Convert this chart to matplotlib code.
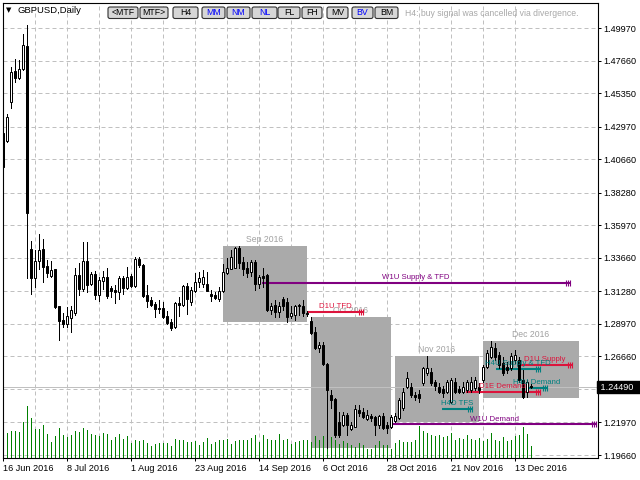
import matplotlib
matplotlib.use('Agg')
import matplotlib.pyplot as plt
import matplotlib.transforms as mtransforms
from matplotlib.patches import Rectangle, FancyBboxPatch
import numpy as np
import pandas as pd

# ---------------- data ----------------
dates = pd.bdate_range('2016-06-16', '2016-12-19')

opens = [
1.4251, 1.4197, 1.4470, 1.4692, 1.4647, 1.4711, 1.4869, 1.3427, 1.3220, 1.3345,
1.3426, 1.3307, 1.3236, 1.3284, 1.3023, 1.2924, 1.2896, 1.2941, 1.2976, 1.3243,
1.3142, 1.3345, 1.3184, 1.3250, 1.3102, 1.3203, 1.3227, 1.3149, 1.3135, 1.3125,
1.3220, 1.3154, 1.3236, 1.3166, 1.3355, 1.3319, 1.3102, 1.3066, 1.3038, 1.3011,
1.3007, 1.2955, 1.2910, 1.2877, 1.3043, 1.3031, 1.3166, 1.3054, 1.3130, 1.3192,
1.3184, 1.3184, 1.3113, 1.3106, 1.3073, 1.3130, 1.3256, 1.3288, 1.3296, 1.3437,
1.3334, 1.3291, 1.3263, 1.3338, 1.3184, 1.3237, 1.3243, 1.2995, 1.3031, 1.2983,
1.3071, 1.3054, 1.2955, 1.2962, 1.3030, 1.3023, 1.2976, 1.2919, 1.2841, 1.2724,
1.2747, 1.2612, 1.2392, 1.2361, 1.2202, 1.2179, 1.2250, 1.2148, 1.2167, 1.2286,
1.2274, 1.2219, 1.2245, 1.2238, 1.2179, 1.2243, 1.2179, 1.2167, 1.2210, 1.2227,
1.2298, 1.2452, 1.2452, 1.2392, 1.2399, 1.2475, 1.2551, 1.2558, 1.2487, 1.2452,
1.2433, 1.2416, 1.2345, 1.2487, 1.2433, 1.2416, 1.2428, 1.2428, 1.2440, 1.2452,
1.2499, 1.2593, 1.2664, 1.2724, 1.2676, 1.2617, 1.2593, 1.2582, 1.2641, 1.2641,
1.2499, 1.2416, 1.2456]

highs = [
1.4262, 1.4391, 1.4722, 1.4782, 1.4775, 1.4954, 1.5018, 1.3487, 1.3421, 1.3534,
1.3497, 1.3350, 1.3345, 1.3290, 1.3025, 1.2976, 1.3015, 1.3023, 1.3291, 1.3331,
1.3480, 1.3480, 1.3267, 1.3274, 1.3232, 1.3274, 1.3291, 1.3166, 1.3173, 1.3236,
1.3236, 1.3298, 1.3255, 1.3369, 1.3374, 1.3322, 1.3173, 1.3085, 1.3054, 1.3066,
1.3054, 1.2988, 1.2929, 1.3054, 1.3090, 1.3173, 1.3185, 1.3161, 1.3256, 1.3267,
1.3277, 1.3267, 1.3137, 1.3127, 1.3161, 1.3320, 1.3362, 1.3421, 1.3444, 1.3451,
1.3374, 1.3334, 1.3353, 1.3353, 1.3248, 1.3291, 1.3250, 1.3043, 1.3066, 1.3054,
1.3090, 1.3078, 1.3021, 1.3031, 1.3038, 1.3066, 1.2990, 1.2946, 1.2877, 1.2770,
1.2770, 1.2620, 1.2427, 1.2373, 1.2274, 1.2274, 1.2262, 1.2202, 1.2321, 1.2321,
1.2297, 1.2285, 1.2257, 1.2245, 1.2250, 1.2262, 1.2202, 1.2250, 1.2262, 1.2369,
1.2440, 1.2558, 1.2475, 1.2416, 1.2428, 1.2593, 1.2669, 1.2582, 1.2499, 1.2475,
1.2456, 1.2499, 1.2513, 1.2511, 1.2456, 1.2487, 1.2499, 1.2522, 1.2522, 1.2475,
1.2605, 1.2712, 1.2776, 1.2759, 1.2700, 1.2664, 1.2629, 1.2688, 1.2712, 1.2664,
1.2570, 1.2499, 1.2470]

lows = [
1.4005, 1.4190, 1.4431, 1.4616, 1.4635, 1.4699, 1.3222, 1.3113, 1.3160, 1.3284,
1.3196, 1.3231, 1.3227, 1.3007, 1.2782, 1.2872, 1.2877, 1.2841, 1.2960, 1.3102,
1.3132, 1.3125, 1.3173, 1.3071, 1.3061, 1.3142, 1.3078, 1.3090, 1.3047, 1.3071,
1.3113, 1.3142, 1.3158, 1.3158, 1.3300, 1.3090, 1.3015, 1.3026, 1.2948, 1.2976,
1.2941, 1.2894, 1.2853, 1.2870, 1.2955, 1.3022, 1.2965, 1.3031, 1.3125, 1.3161,
1.3161, 1.3130, 1.3059, 1.3073, 1.3059, 1.3125, 1.3252, 1.3286, 1.3291, 1.3291,
1.3243, 1.3232, 1.3241, 1.3137, 1.3149, 1.3161, 1.2988, 1.2971, 1.2943, 1.2948,
1.2998, 1.2913, 1.2940, 1.2924, 1.2962, 1.2953, 1.2953, 1.2829, 1.2717, 1.2700,
1.2605, 1.2016, 1.2298, 1.2097, 1.2097, 1.2171, 1.2108, 1.2143, 1.2162, 1.2245,
1.2226, 1.2212, 1.2204, 1.2108, 1.2155, 1.2150, 1.2120, 1.2155, 1.2203, 1.2220,
1.2286, 1.2440, 1.2380, 1.2357, 1.2345, 1.2463, 1.2534, 1.2463, 1.2428, 1.2404,
1.2380, 1.2404, 1.2335, 1.2404, 1.2404, 1.2404, 1.2416, 1.2416, 1.2428, 1.2404,
1.2487, 1.2582, 1.2653, 1.2641, 1.2582, 1.2534, 1.2546, 1.2570, 1.2617, 1.2487,
1.2369, 1.2380, 1.2440]

closes = [
1.4014, 1.4367, 1.4687, 1.4647, 1.4711, 1.4876, 1.3683, 1.3220, 1.3345, 1.3421,
1.3302, 1.3260, 1.3279, 1.3018, 1.2919, 1.2896, 1.2953, 1.2995, 1.3243, 1.3142,
1.3345, 1.3173, 1.3250, 1.3102, 1.3208, 1.3227, 1.3095, 1.3132, 1.3125, 1.3220,
1.3154, 1.3232, 1.3166, 1.3355, 1.3315, 1.3095, 1.3061, 1.3031, 1.3000, 1.3000,
1.2948, 1.2901, 1.2870, 1.3043, 1.3031, 1.3166, 1.3073, 1.3137, 1.3196, 1.3225,
1.3232, 1.3130, 1.3096, 1.3078, 1.3130, 1.3263, 1.3296, 1.3374, 1.3437, 1.3327,
1.3286, 1.3256, 1.3338, 1.3184, 1.3232, 1.3220, 1.2995, 1.3023, 1.2979, 1.3023,
1.3023, 1.2948, 1.2976, 1.3023, 1.3023, 1.2976, 1.2967, 1.2834, 1.2724, 1.2747,
1.2612, 1.2427, 1.2357, 1.2108, 1.2108, 1.2250, 1.2179, 1.2179, 1.2290, 1.2267,
1.2238, 1.2250, 1.2226, 1.2179, 1.2243, 1.2155, 1.2155, 1.2238, 1.2243, 1.2357,
1.2416, 1.2511, 1.2392, 1.2376, 1.2369, 1.2582, 1.2582, 1.2475, 1.2456, 1.2416,
1.2404, 1.2487, 1.2499, 1.2416, 1.2416, 1.2452, 1.2487, 1.2487, 1.2499, 1.2428,
1.2593, 1.2688, 1.2735, 1.2664, 1.2605, 1.2546, 1.2570, 1.2669, 1.2676, 1.2499,
1.2380, 1.2487, 1.2449]

tick_volume = [
28, 25, 27, 27, 26, 36, 52, 40, 29, 29,
33, 24, 16, 22, 30, 23, 21, 23, 27, 26,
30, 28, 24, 23, 22, 25, 24, 18, 21, 24,
19, 22, 15, 18, 17, 18, 15, 12, 14, 15,
15, 15, 12, 19, 18, 18, 16, 16, 17, 13,
16, 20, 14, 16, 18, 18, 19, 14, 17, 18,
18, 18, 20, 23, 16, 23, 19, 18, 18, 24,
18, 19, 14, 16, 17, 18, 18, 16, 22, 18,
22, 20, 21, 18, 14, 17, 15, 13, 11, 15,
13, 9, 9, 13, 17, 13, 13, 9, 15, 18,
16, 16, 16, 18, 32, 27, 25, 23, 22, 23,
21, 22, 25, 18, 20, 19, 23, 19, 18, 20,
17, 19, 25, 18, 17, 21, 17, 18, 22, 23,
31, 24, 12]

# monthly zones (bar index of first bar, bar index where the zone ends)
zone_labels = ['Sep 2016', 'Oct 2016', 'Nov 2016', 'Dec 2016']
zone_start = [55, 77, 98, 120]
zone_end = [76, 97, 119, 144]

# level lines
level_names = ['W1U Supply & TFD', 'D1U TFD', 'W1U Demand', 'D1E Demand',
               'D1U Supply', 'H4U Supply & TFD', 'H4U Demand', 'H4D TFS']
level_start = [64.6, 75.9, 97.4, 115.6, 128.4, 123.1, 130.9, 109.6]
level_end = [141.6, 89.9, 148.1, 134.1, 142.1, 134.1, 135.9, 117.1]
level_price = [1.3190, 1.2984, 1.2184, 1.2416, 1.2605, 1.2580, 1.2444, 1.2293]
level_color = ['#800080', '#DC143C', '#800080', '#DC143C',
               '#DC143C', '#008080', '#008080', '#008080']

ytick_values = [1.49970, 1.47660, 1.45350, 1.42970, 1.40660, 1.38280, 1.35970,
                1.33660, 1.31280, 1.28970, 1.26660, 1.24350, 1.21970, 1.19660]
hidden_ytick = 1.24350
current_price = 1.24490

buttons = ['<MTF', 'MTF>', 'H4', 'MM', 'NM', 'NL', 'FL', 'FH', 'MV', 'BV', 'BM']
buttons_active = ['MM', 'NM', 'NL', 'BV']
status_msg = 'H4: buy signal was cancelled via divergence.'
title = 'GBPUSD,Daily'

# ---------------- layout ----------------
W, H = 640, 480
FONT = 'Liberation Sans'
PX = 0.72  # one pixel in points at 100 dpi
fig = plt.figure(figsize=(W / 100, H / 100), dpi=100)
fig.patch.set_facecolor('white')
ax = fig.add_axes([3 / W, 1 - 458 / H, 595 / W, 455 / H])
ax.set_facecolor('white')

n = len(opens)
x = np.arange(n)
o = np.array(opens); hi = np.array(highs); lo = np.array(lows); c = np.array(closes)

ax.set_xlim(-0.1, 148.65)
ax.set_ylim(1.19447, 1.51767)

# ticks and grid
ax.set_xticks(x[::16])
ax.set_xticks(x[8::16], minor=True)
ax.set_xticklabels([d.strftime('%-d %b %Y') for d in dates[::16]],
                   ha='left', fontsize=6.6, family=FONT)
ax.set_yticks(ytick_values)
ax.set_yticklabels(['' if abs(v - hidden_ytick) < 1e-9 else f'{v:.5f}' for v in ytick_values],
                   fontsize=6.6, family=FONT)
ax.yaxis.tick_right()
ax.tick_params(axis='both', which='major', length=2.5, width=PX, color='black', pad=1.5)
ax.tick_params(axis='x', which='minor', length=0)
ax.grid(True, which='both', color='#c0c0c0', linewidth=PX, linestyle=(0, (4, 3)), zorder=0)
ax.set_axisbelow(True)
for s in ax.spines.values():
    s.set_color('black')
    s.set_linewidth(0.8)

# monthly zones
for lab, s, e in zip(zone_labels, zone_start, zone_end):
    seg_end = min(e, n - 1)
    zl = lo[s:seg_end + 1].min()
    zh = hi[s:seg_end + 1].max()
    ax.add_patch(Rectangle((s - 0.2, zl), e - s, zh - zl, facecolor='#aaaaaa',
                           edgecolor='none', zorder=1))
    ax.annotate(lab, ((s + e) / 2 - 0.2, zh), xytext=(0, 1.5), textcoords='offset points',
                ha='center', va='bottom', fontsize=6.2, family=FONT, color='#a0a0a0', zorder=1.5)

# volumes (histogram overlaid at the bottom)
vol_scale = mtransforms.blended_transform_factory(
    ax.transData, mtransforms.Affine2D().scale(1, 1 / 455.0) + ax.transAxes)
ax.vlines(x, 0, tick_volume, transform=vol_scale, color='#008000', linewidth=PX,
          antialiased=False, zorder=2)

# current price line
ax.axhline(current_price, color='#c0c0c0', linewidth=PX, antialiased=False, zorder=2.5)

# level lines
for name, s, e, p, col in zip(level_names, level_start, level_end, level_price, level_color):
    ax.plot([s, e], [p, p], color=col, linewidth=1.5, zorder=3, solid_capstyle='butt')
    ax.plot([e - 1.0, e - 0.5, e], [p, p, p], linestyle='none', marker='|', markersize=5,
            markeredgewidth=0.8, color=col, zorder=3)

# candles
ax.vlines(x, lo, hi, color='black', linewidth=PX, antialiased=False, zorder=4)
up = c >= o
body_bottom = np.minimum(o, c)
body_h = np.maximum(np.abs(c - o), 0.00008)
ax.bar(x, body_h, bottom=body_bottom, width=0.5,
       color=np.where(up, 'white', 'black'), edgecolor='black', linewidth=PX, zorder=4.5)

# level labels
for name, s, e, p, col in zip(level_names, level_start, level_end, level_price, level_color):
    ax.annotate(name, ((s + e) / 2, p), xytext=(0, 1.2), textcoords='offset points',
                ha='center', va='bottom', fontsize=5.6, family=FONT, color=col, zorder=6)

# current price tag
tag_tr = mtransforms.blended_transform_factory(ax.transAxes, ax.transData)
ax.text(1.0, current_price, f' {current_price:.5f}  ', transform=tag_tr, ha='left', va='center',
        fontsize=6.6, family=FONT, color='white', zorder=7, clip_on=False,
        bbox=dict(boxstyle='square,pad=0.15', facecolor='black', edgecolor='black'))

# header
fig.text(6 / W, 1 - 10.5 / H, '\u25bc', fontsize=5, family='DejaVu Sans', va='center', ha='left')
fig.text(18 / W, 1 - 10.5 / H, title, fontsize=6.8, family=FONT, va='center', ha='left')

btn_px = [(108, 138), (140, 168), (173, 198), (202, 225), (227, 250), (252, 277),
          (278, 300), (302, 322), (327, 348), (352, 373), (375, 398)]
for lab, (x0, x1) in zip(buttons, btn_px):
    fig.add_artist(FancyBboxPatch((x0, H - 18.5), x1 - x0, 11.5,
                                  boxstyle='round,pad=0,rounding_size=2',
                                  transform=mtransforms.IdentityTransform(),
                                  facecolor='#d6d6d6', edgecolor='#303030', linewidth=0.8))
    fig.text((x0 + x1) / 2 / W, 1 - 12.8 / H, lab, fontsize=6.3, family=FONT,
             color='#0000ff' if lab in buttons_active else 'black', ha='center', va='center')
fig.text(405 / W, 1 - 13 / H, status_msg, fontsize=6.2, family=FONT, color='#a8a8a8',
         ha='left', va='center')

fig.savefig('out.png', dpi=100)
